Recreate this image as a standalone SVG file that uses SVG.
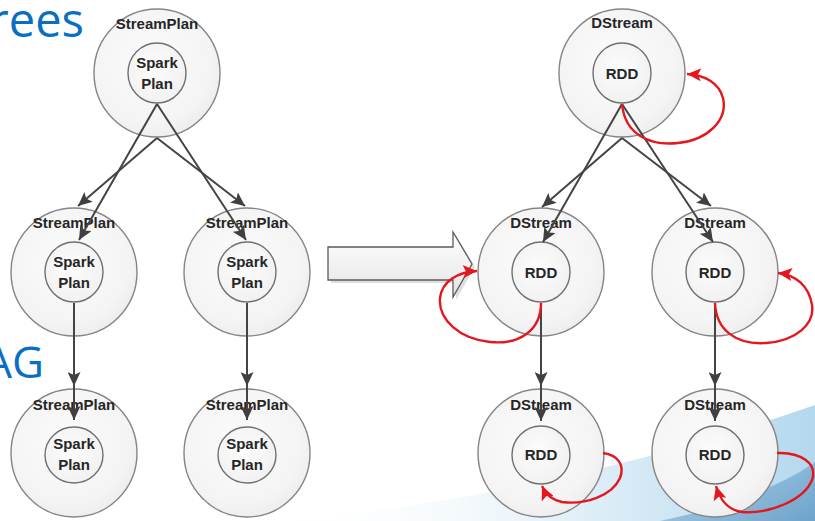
<svg xmlns="http://www.w3.org/2000/svg" width="815" height="521" viewBox="0 0 815 521">
  <defs>
    <style>
      .outer { fill: url(#gOuter); stroke: #858585; stroke-width: 1.4; }
      .inner { fill: url(#gInner); stroke: #707070; stroke-width: 1.4; }
      .lbl { font-family: "Liberation Sans", Arial, sans-serif; font-weight: bold; font-size: 15px; fill: #262626; text-anchor: middle; }
      .title { font-family: "Open Sans", "Noto Sans", sans-serif; fill: #0a6fc2; }
      .edge { fill: none; stroke: #444; stroke-width: 2; marker-end: url(#ah); }
      .loop { fill: none; stroke: #e3171d; stroke-width: 2.4; marker-end: url(#rh); }
    </style>
    <radialGradient id="gOuter" cx="0.45" cy="0.42" r="0.6">
      <stop offset="0" stop-color="#fbfbfb"/>
      <stop offset="0.8" stop-color="#f4f4f4"/>
      <stop offset="1" stop-color="#ededed"/>
    </radialGradient>
    <radialGradient id="gInner" cx="0.45" cy="0.42" r="0.6">
      <stop offset="0" stop-color="#fcfcfc"/>
      <stop offset="1" stop-color="#f1f1f1"/>
    </radialGradient>
    <linearGradient id="gArrow" x1="0" y1="0" x2="0" y2="1">
      <stop offset="0" stop-color="#ffffff"/>
      <stop offset="1" stop-color="#e4e4e4"/>
    </linearGradient>
    <linearGradient id="gBg" x1="0" y1="0" x2="1" y2="0">
      <stop offset="0" stop-color="#ffffff" stop-opacity="0"/>
      <stop offset="0.5" stop-color="#e6f2f9"/>
      <stop offset="1" stop-color="#b4d8ee"/>
    </linearGradient>
    <linearGradient id="gBg2" x1="0" y1="0" x2="1" y2="1">
      <stop offset="0" stop-color="#8cc2e3"/>
      <stop offset="1" stop-color="#2a6ea6"/>
    </linearGradient>
    <marker id="ah" markerUnits="userSpaceOnUse" markerWidth="15" markerHeight="13" refX="14" refY="6.5" orient="auto">
      <path d="M0,0 L14,6.5 L0,13 L3,6.5 Z" fill="#404040"/>
    </marker>
    <marker id="rh" markerUnits="userSpaceOnUse" markerWidth="15" markerHeight="13" refX="14" refY="6.5" orient="auto">
      <path d="M0,0 L14,6.5 L0,13 L3,6.5 Z" fill="#e3171d"/>
    </marker>
  </defs>

  <!-- background -->
  <g id="background">
    <rect x="0" y="0" width="815" height="521" fill="#ffffff"/>
    <path d="M280,521 C440,508 630,470 815,405 L815,521 Z" fill="url(#gBg)"/>
    <path d="M660,521 C720,508 775,490 815,462 L815,521 Z" fill="url(#gBg2)" opacity="0.5"/>
    <text class="title" x="84" y="37" font-size="47" text-anchor="end">rees</text>
    <text class="title" x="44" y="378" font-size="44" text-anchor="end">AG</text>
  </g>

  <!-- left tree -->
  <g id="sp-top">
    <ellipse class="outer" cx="157" cy="73" rx="63" ry="64"/>
    <text class="lbl" x="157" y="29">StreamPlan</text>
    <ellipse class="inner" cx="157" cy="73" rx="29" ry="30"/>
    <text class="lbl" x="157" y="68">Spark</text>
    <text class="lbl" x="157" y="89">Plan</text>
  </g>
  <g id="sp-mid-left">
    <ellipse class="outer" cx="74" cy="272" rx="63" ry="64"/>
    <text class="lbl" x="74" y="228">StreamPlan</text>
    <ellipse class="inner" cx="74" cy="272" rx="29" ry="30"/>
    <text class="lbl" x="74" y="267">Spark</text>
    <text class="lbl" x="74" y="288">Plan</text>
  </g>
  <g id="sp-mid-right">
    <ellipse class="outer" cx="247" cy="272" rx="63" ry="64"/>
    <text class="lbl" x="247" y="228">StreamPlan</text>
    <ellipse class="inner" cx="247" cy="272" rx="29" ry="30"/>
    <text class="lbl" x="247" y="267">Spark</text>
    <text class="lbl" x="247" y="288">Plan</text>
  </g>
  <g id="sp-bot-left">
    <ellipse class="outer" cx="74" cy="453" rx="63" ry="64"/>
    <text class="lbl" x="74" y="410">StreamPlan</text>
    <ellipse class="inner" cx="74" cy="455" rx="29" ry="28"/>
    <text class="lbl" x="74" y="449">Spark</text>
    <text class="lbl" x="74" y="470">Plan</text>
  </g>
  <g id="sp-bot-right">
    <ellipse class="outer" cx="247" cy="453" rx="63" ry="64"/>
    <text class="lbl" x="247" y="410">StreamPlan</text>
    <ellipse class="inner" cx="247" cy="455" rx="29" ry="28"/>
    <text class="lbl" x="247" y="449">Spark</text>
    <text class="lbl" x="247" y="470">Plan</text>
  </g>

  <!-- big transform arrow -->
  <g id="transform-arrow">
    <polygon points="331,250 456,250 456,235 475,267 456,300 456,283 331,283" fill="#c4c4c4" opacity="0.55"/>
    <polygon points="328,247 453,247 453,232 472,264 453,297 453,280 328,280" fill="url(#gArrow)" stroke="#5a5a5a" stroke-width="1.3"/>
  </g>

  <!-- right tree -->
  <g id="ds-top">
    <ellipse class="outer" cx="622" cy="73" rx="63" ry="64"/>
    <text class="lbl" x="622" y="28">DStream</text>
    <ellipse class="inner" cx="622" cy="73" rx="29" ry="30"/>
    <text class="lbl" x="622" y="79">RDD</text>
  </g>
  <g id="ds-mid-left">
    <ellipse class="outer" cx="541" cy="272" rx="63" ry="64"/>
    <text class="lbl" x="541" y="228">DStream</text>
    <ellipse class="inner" cx="541" cy="272" rx="29" ry="30"/>
    <text class="lbl" x="541" y="278">RDD</text>
  </g>
  <g id="ds-mid-right">
    <ellipse class="outer" cx="715" cy="272" rx="63" ry="64"/>
    <text class="lbl" x="715" y="228">DStream</text>
    <ellipse class="inner" cx="715" cy="272" rx="29" ry="30"/>
    <text class="lbl" x="715" y="278">RDD</text>
  </g>
  <g id="ds-bot-left">
    <ellipse class="outer" cx="541" cy="453" rx="63" ry="64"/>
    <text class="lbl" x="541" y="410">DStream</text>
    <ellipse class="inner" cx="541" cy="455" rx="29" ry="29"/>
    <text class="lbl" x="541" y="460">RDD</text>
  </g>
  <g id="ds-bot-right">
    <ellipse class="outer" cx="715" cy="453" rx="63" ry="64"/>
    <text class="lbl" x="715" y="410">DStream</text>
    <ellipse class="inner" cx="715" cy="455" rx="29" ry="29"/>
    <text class="lbl" x="715" y="460">RDD</text>
  </g>

  <!-- connectors -->
  <g id="connectors">
    <!-- left tree -->
    <path class="edge" d="M157,104 L79,240"/>
    <path class="edge" d="M157,138 L78,206"/>
    <path class="edge" d="M157,104 L246,240"/>
    <path class="edge" d="M157,138 L245,206"/>
    <path class="edge" d="M74,303 L74,386"/>
    <path class="edge" d="M74,384 L74,420"/>
    <path class="edge" d="M247,303 L247,386"/>
    <path class="edge" d="M247,384 L247,420"/>
    <!-- right tree -->
    <path class="edge" d="M622,104 L543,242"/>
    <path class="edge" d="M622,138 L542,207"/>
    <path class="edge" d="M622,104 L713,242"/>
    <path class="edge" d="M622,138 L711,206"/>
    <path class="edge" d="M541,303 L541,386"/>
    <path class="edge" d="M541,384 L541,421"/>
    <path class="edge" d="M715,303 L715,386"/>
    <path class="edge" d="M715,384 L715,421"/>
    <!-- red self loops -->
    <path class="loop" d="M622,104 C625,135 650,146 678,143 C708,140 728,120 723,98 C719,83 705,75 687,74"/>
    <path class="loop" d="M541,303 C541,330 520,345 490,342 C460,339 438,320 440,298 C442,281 458,272 477,271"/>
    <path class="loop" d="M715,303 C716,330 736,345 766,343 C796,341 815,324 812,305 C809,286 796,275 778,273"/>
    <path class="loop" d="M603,453 C618,455 625,465 620,478 C612,496 585,505 562,502 C552,500 546,495 542,486"/>
    <path class="loop" d="M777,453 C800,452 818,463 812,480 C804,500 770,514 742,512 C728,510 720,500 716,486"/>
  </g>
</svg>
